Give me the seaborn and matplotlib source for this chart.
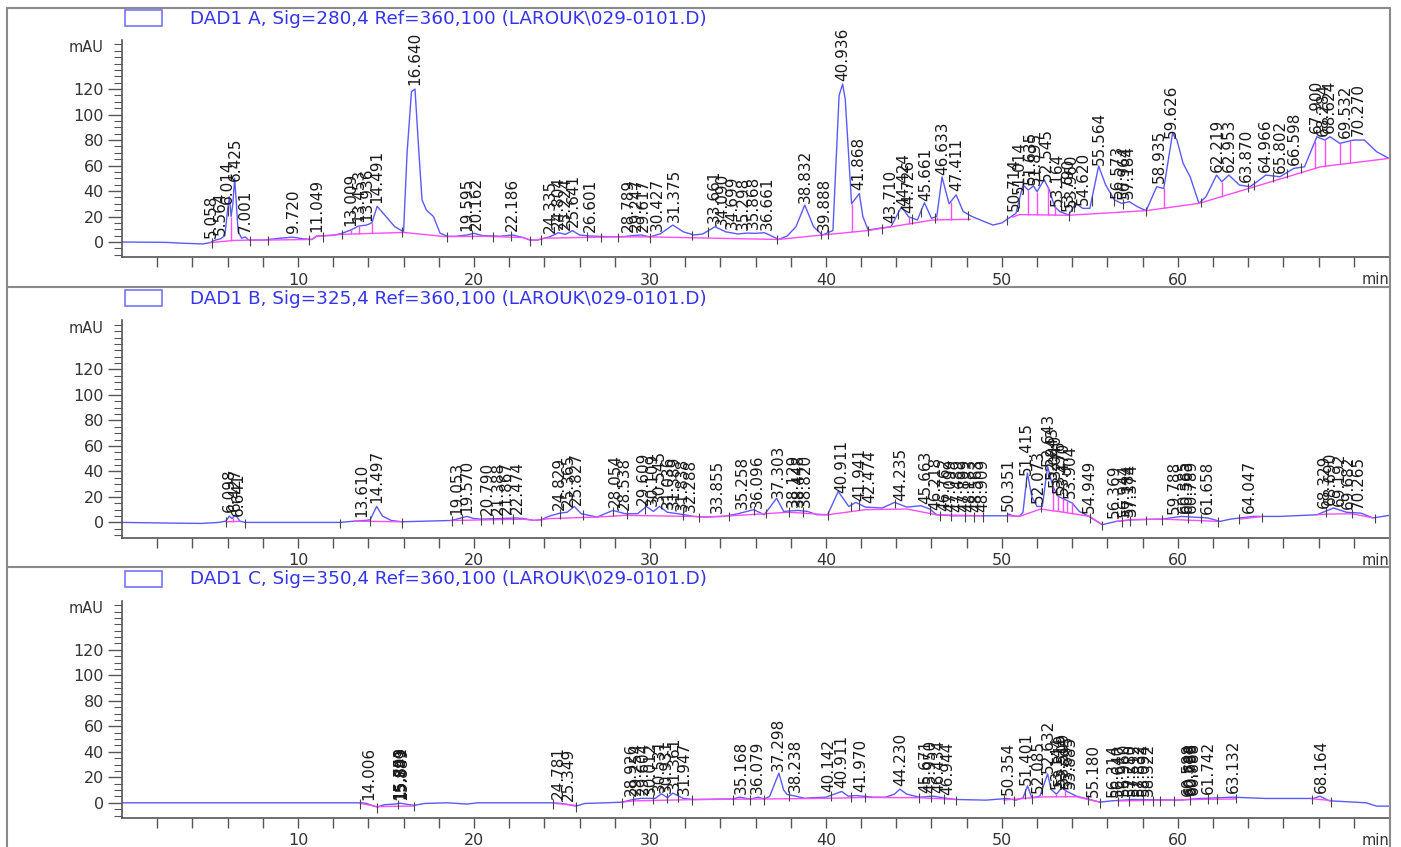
import numpy as np
import matplotlib
matplotlib.use('Agg')
import matplotlib.pyplot as plt
from matplotlib.lines import Line2D
from matplotlib.patches import Rectangle
import seaborn as sns

# ---------------- signal A : 280 nm ----------------
a_t = [0.0, 2.5, 3.5, 4.6, 5.0, 5.3, 5.6, 5.85, 6.0, 6.1, 6.2, 6.3, 6.4, 6.5, 6.6, 6.8, 7.0, 7.2, 8.0,
       9.0, 9.7, 10.3, 10.8, 11.05, 12.0, 12.5, 13.0, 13.45, 13.9, 14.2, 14.5, 15.0, 15.5, 16.0, 16.2,
       16.45, 16.65, 16.85, 17.05, 17.3, 17.7, 18.07, 18.5, 19.0, 19.6, 20.0, 20.5, 21.5, 22.2, 22.8,
       23.2, 23.6, 24.0, 24.3, 24.8, 25.2, 25.6, 26.0, 26.6, 27.5, 28.5, 29.0, 29.5, 30.0, 30.6, 31.3,
       31.9, 32.5, 33.0, 33.7, 34.3, 35.0, 35.5, 36.0, 36.5, 37.0, 37.3, 37.8, 38.3, 38.8, 39.3, 39.8,
       40.4, 40.75, 40.95, 41.1, 41.46, 41.9, 42.1, 42.4, 43.0, 43.7, 44.3, 44.7, 45.2, 45.6, 46.0,
       46.3, 46.6, 47.0, 47.4, 47.8, 48.3, 49.0, 49.5, 50.0, 50.8, 51.2, 51.5, 51.8, 52.0, 52.4, 52.7,
       53.0, 53.3, 53.8, 54.2, 54.6, 55.0, 55.5, 55.9, 56.4, 56.8, 57.25, 57.7, 58.2, 58.8, 59.2, 59.7,
       59.95, 60.3, 60.7, 61.2, 61.6, 62.2, 62.5, 62.9, 63.5, 64.1, 64.5, 65.0, 65.8, 66.6, 67.2, 67.9,
       68.35, 68.65, 69.2, 70.0, 70.6, 71.3, 72.0]
a_v = [0, -0.3, -1.0, -1.5, -0.5, 1.5, 2.5, 5, 25, 35.5, 20, 30, 50, 30, 8, 3, 4, 1.5, 1.5,
       3, 3.8, 2.5, 2, 4.7, 5.2, 6.8, 9.4, 12.5, 13.3, 15, 28, 20, 12, 8, 70,
       118, 120, 75, 33, 25, 20, 7, 4.5, 4.5, 5.5, 6.8, 5.0, 4.5, 5.5, 3.5,
       1.5, 1.5, 3, 4, 7.3, 6, 8.9, 5.5, 4.7, 4.2, 4.2, 5.0, 5.5, 4.0, 6.5, 13.3,
       8, 5.5, 6.3, 12, 8, 6.3, 7, 6.8, 7.3, 4.2, 2, 4.7, 12, 29, 12, 5.5,
       9, 115, 124, 112, 30, 38, 20, 9.4, 10.7, 12, 27.7, 19.8, 17.3, 30.8, 18.6,
       20, 51, 30, 37, 24, 20, 16, 13.3, 15, 22.5, 44.7, 40.8, 44, 39.5, 49, 40.8,
       27.7, 23.8, 21.2, 30.3, 26.4, 26.4, 59.6, 44.7, 33, 30.3, 31.6, 27.7, 24.6, 43.4, 42, 85.2,
       80, 61.7, 51.2, 30.3, 35.5, 52.5, 47.3, 52.5, 44.7, 43.4, 47.3, 52.5, 51.2, 57.8, 59, 82.6,
       80, 82.6, 77.4, 80, 80, 70.8, 65.6]
a_base_t = [5.0, 6.3, 7.2, 8.0, 10.8, 11.05, 12.5, 14.3, 16.0, 18.4, 20.5, 22.8, 23.2, 23.6, 24.0,
            27.9, 30.0, 37.3, 39.8, 42.4, 46.1, 48.2, np.nan, 50.6, 51.0, 53.8, 58.2, 61.2, 66.2,
            68.1, 72.0]
a_base_v = [-0.5, 1.2, 1.5, 1.5, 2.0, 4.5, 6.0, 6.8, 7.5, 4.2, 4.5, 3.5, 1.5, 1.5, 3.0,
            4.0, 4.0, 2.0, 5.5, 9.0, 17.3, 17.8, np.nan, 19.5, 21.5, 21.0, 24.6, 30.3, 51,
            59, 65.6]
a_peaks = ['5.058', '5.564', '6.014', '6.425', '7.001', '9.720', '11.049', '13.009', '13.453',
           '13.936', '14.491', '16.640', '19.595', '20.162', '22.186', '24.335', '24.804', '25.224',
           '25.641', '26.601', '28.789', '29.247', '29.617', '30.427', '31.375', '33.661', '34.090',
           '34.699', '35.298', '35.868', '36.661', '38.832', '39.888', '40.936', '41.868', '43.710',
           '44.424', '44.726', '45.661', '46.633', '47.411', '50.714', '51.014', '51.635', '51.895',
           '52.545', '53.164', '53.790', '53.960', '54.620', '55.564', '56.573', '56.964', '57.184',
           '58.935', '59.626', '62.219', '62.953', '63.870', '64.966', '65.802', '66.598', '67.900',
           '68.284', '68.624', '69.532', '70.270']
a_drops = [6.2, 13.0, 13.45, 14.2, 41.46, 44.7, 46.3, 47.1, 51.5, 52.0, 52.6, 53.0, 59.2, 62.5,
           67.8, 68.35, 69.2, 69.8]
a_events = [5.1, 6.0, 7.3, 8.3, 10.6, 11.4, 12.5, 15.9, 18.45, 19.9, 21.1, 22.1, 23.2, 23.8, 26.4,
            27.2, 28.2, 30.0, 32.4, 33.3, 37.2, 39.7, 40.1, 42.4, 43.2, 44.1, 44.9, 45.4, 46.2, 48.1,
            50.3, 50.95, 51.2, 53.8, 54.1, 55.1, 56.4, 56.9, 58.2, 61.3, 64.0, 64.3, 65.4, 66.2, 67.0]

# ---------------- signal B : 325 nm ----------------
b_t = [0, 2.5, 4.5, 5.5, 5.9, 6.1, 6.25, 6.45, 6.7, 7.0, 12.4, 13.2, 13.8, 14.1, 14.47, 14.8, 15.3,
       15.9, 18.7, 19.0, 19.6, 20.0, 20.4, 21.4, 22.4, 22.8, 23.4, 23.8, 24.3, 24.9, 25.3, 25.7, 26.1,
       27.0, 27.9, 28.6, 29.3, 29.8, 30.2, 30.55, 31.0, 31.6, 32.5, 33.1, 34.2, 35.0, 35.9, 36.5,
       37.2, 37.6, 38.4, 38.95, 39.5, 40.1, 40.7, 41.3, 41.7, 42.25, 43.2, 43.9, 44.6, 45.4, 45.9,
       46.3, 47.2, 48.8, 50.3, 50.4, 50.6, 51.0, 51.2, 51.45, 51.7, 52.0, 52.3, 52.6, 52.9, 53.2,
       53.6, 54.0, 54.4, 54.95, 55.7, 56.5, 57.4, 59.1, 60.2, 61.7, 62.4, 63.0, 64.3, 65.8, 67.9,
       68.85, 69.6, 70.4, 71.1, 72.0]
b_v = [0, -0.5, -0.8, 0, 1, 5, 3, 6, 1, 0, 0, 1, 1.5, 2, 12.5, 5, 1.5,
       0.5, 1.5, 2.5, 4.7, 3, 2.6, 3, 3.5, 3.0, 1.6, 2, 5, 7.3, 8, 12.5, 6.8,
       4.2, 9.4, 6.8, 6.8, 12.5, 8.6, 12.5, 7.9, 6.8, 4.7, 4.2, 4.7, 6.8, 10, 6,
       19, 8.6, 9.4, 8.6, 6, 6, 24.3, 12.5, 15.7, 12, 11.3, 15.7, 12, 13.1, 10.5,
       6, 5.2, 5.2, 5.2, 6.5, 5.2, 4.7, 8, 38.7, 20.4, 12.5, 12.5, 43.9, 28, 20.4,
       17.8, 15.2, 8.6, 4.7, -1.8, 0.8, 2.1, 2.6, 4.7, 3.5, 0.8, 2.6, 4.7, 4.7, 6,
       11.3, 7.9, 7.3, 3.5, 5.5]
b_base_t = [5.9, 6.7, np.nan, 13.2, 15.9, np.nan, 18.7, 22.8, 23.4, 23.8, 24.3, 27.0, 28.6, 32.5,
            33.1, 35.0, 37.9, 40.1, 42.25, 44.6, 46.3, 48.9, np.nan, 50.3, 51.0, 52.2, 53.5, 55.0,
            55.7, np.nan, 56.5, 57.4, 59.1, 62.3, np.nan, 63.5, 64.8, np.nan, 67.9, 68.4, 69.9, 71.1]
b_base_v = [0.5, 0.8, np.nan, 1.0, 0.5, np.nan, 1.5, 2.5, 1.6, 2.0, 3.0, 4.2, 5.5, 4.7,
            4.2, 5.5, 8.0, 6.0, 10.0, 10.5, 6.0, 5.2, np.nan, 5.2, 4.7, 10.5, 8.0, 4.7,
            -1.8, np.nan, 0.8, 2.1, 2.6, 0.8, np.nan, 2.6, 4.6, np.nan, 6.0, 6.5, 6.8, 3.5]
b_peaks = ['6.098', '6.427', '6.641', '13.610', '14.497', '19.053', '19.570', '20.790', '21.388',
           '21.867', '22.474', '24.829', '25.365', '25.827', '28.054', '28.538', '29.609', '30.109',
           '30.545', '31.036', '31.389', '31.838', '32.288', '33.855', '35.258', '36.096', '37.303',
           '38.129', '38.448', '38.820', '40.911', '41.941', '42.474', '44.235', '45.663', '46.218',
           '46.762', '47.099', '47.489', '47.899', '48.183', '48.563', '48.909', '50.351', '51.415',
           '52.073', '52.643', '52.843', '53.040', '53.276', '53.470', '53.904', '54.949', '56.369',
           '56.944', '57.184', '57.374', '59.788', '60.385', '60.563', '60.789', '61.658', '64.047',
           '68.329', '68.690', '69.192', '69.682', '70.265']
b_drops = [6.3, 52.9, 53.2, 53.45, 53.7, 54.0]
b_events = [5.9, 7.0, 12.4, 14.1, 15.9, 18.75, 19.3, 20.4, 21.1, 21.6, 22.2, 23.8, 24.9, 26.2, 27.9,
            28.7, 29.7, 31.9, 32.8, 34.5, 35.9, 36.6, 37.9, 38.7, 40.1, 41.4, 41.9, 43.9, 45.9, 46.5,
            47.1, 47.9, 48.4, 48.9, 50.3, 51.4, 52.2, 55.0, 55.7, 56.8, 57.3, 58.2, 59.1, 60.6, 61.3,
            62.3, 63.5, 64.8, 68.4, 69.9, 71.2]

# ---------------- signal C : 350 nm ----------------
c_t = [0, 13.6, 13.9, 14.2, 14.5, 14.9, 15.5, 15.8, 16.1, 16.6, 17.2, 18.5, 19.6, 20.2, 24.4, 25.0,
       25.8, 26.3, 27.5, 28.4, 29.05, 29.5, 30.0, 30.3, 30.66, 31.0, 31.3, 31.9, 32.5, 33.98, 34.7,
       35.1, 35.7, 36.15, 36.5, 36.8, 37.33, 37.6, 37.8, 38.2, 38.8, 39.1, 40.0, 40.9, 41.27, 41.7,
       42.7, 43.4, 43.9, 44.2, 44.6, 45.3, 46.1, 46.67, 47.4, 49.1, 50.3, 50.8, 51.2, 51.46, 51.7,
       52.16, 52.6, 52.8, 53.1, 53.4, 53.7, 54.24, 55.0, 55.57, 56.2, 57.46, 60.1, 61.25, 63.1, 65.0,
       67.7, 68.07, 68.6, 70.7, 71.3, 72.0]
c_v = [0, 0, -0.5, -2, -3.3, -1.5, -1, -0.3, -1, -2, -0.5, 0, -1, 0, 0, -0.5,
       -2.6, -0.5, 0, 0.5, 2.6, 3.5, 3.5, 3.5, 7, 4.0, 7.6, 3.4, 2.6, 2.9, 3.0,
       4.4, 2.9, 4.4, 3.0, 5, 23.3, 10, 6.5, 5.5, 3.5, 3.9, 4.4, 8.9, 5.2, 5.7,
       4.4, 4.4, 6.8, 10.7, 6.8, 4.4, 5.2, 3.9, 2.6, 2.1, 3.4, 2.1, 3.9, 13.3, 3.9,
       5.2, 22.7, 10.5, 6.8, 11.7, 8.9, 5.2, 2.6, 0.5, 1.5, 2.6, 2.1, 3.4, 4.4, 3.4,
       3.4, 5.2, 1.6, 0, -2.6, -2.6]
c_base_t = [13.5, 14.5, 16.6, np.nan, 24.5, 25.8, np.nan, 28.4, 29.05, 32.4, 34.7, 36.5, 38.8, 40.3,
            42.2, 45.3, 47.4, np.nan, 50.1, 51.3, 52.3, 54.2, 55.57, np.nan, 56.6, 59.0, 61.7, 63.3,
            np.nan, 67.6, 68.7]
c_base_v = [-0.3, -3.0, -2.5, np.nan, -0.3, -2.0, np.nan, 0.5, 1.5, 2.5, 2.8, 3.0, 3.3, 3.6,
            4.2, 4.0, 2.6, np.nan, 2.2, 3.5, 4.6, 4.8, 0.5, np.nan, 1.5, 2.0, 2.8, 3.0,
            np.nan, 3.2, 1.8]
c_peaks = ['14.006', '15.759', '15.803', '15.841', '15.889', '24.781', '25.349', '28.926', '29.254',
           '29.604', '30.012', '30.531', '30.931', '31.361', '31.947', '35.168', '36.079', '37.298',
           '38.238', '40.142', '40.911', '41.970', '44.230', '45.671', '45.950', '46.434', '46.944',
           '50.354', '51.401', '52.085', '52.632', '53.144', '53.319', '53.509', '53.695', '53.885',
           '55.180', '56.314', '56.640', '56.960', '57.280', '57.512', '57.832', '58.094', '58.322',
           '60.588', '60.688', '60.788', '60.888', '61.742', '63.132', '68.164']
c_drops = [53.1, 53.6]
c_events = [13.5, 14.5, 15.7, 16.6, 24.5, 25.8, 28.4, 29.05, 30.2, 30.95, 31.6, 32.4, 34.7, 35.7,
            36.5, 37.9, 40.3, 41.4, 42.2, 45.3, 46.0, 46.7, 47.4, 50.1, 50.7, 51.3, 51.7, 52.3, 54.9,
            55.6, 56.6, 57.2, 58.0, 58.6, 59.0, 59.8, 60.7, 61.7, 62.2, 63.3, 67.6, 68.7]

titles = ['DAD1 A, Sig=280,4 Ref=360,100 (LAROUK\\029-0101.D)',
          'DAD1 B, Sig=325,4 Ref=360,100 (LAROUK\\029-0101.D)',
          'DAD1 C, Sig=350,4 Ref=360,100 (LAROUK\\029-0101.D)']

sns.set_theme(style='white')
plt.rcParams['font.family'] = ['DejaVu Sans']

W, H = 1401, 847
TRACE = '#5a5aff'
BASE = '#ff4cff'
TITLE = '#3434f0'
AXC = '#555555'

fig = plt.figure(figsize=(W / 100, H / 100), dpi=100)


def px(x, y):
    return x / W, 1 - y / H


def draw_panel(k, t, v, base_t, base_v, peaks, drops, events, title):
    off = k * 280.4
    x0 = 122
    bottom = 257.3 + off
    ax = fig.add_axes([x0 / W, 1 - bottom / H, 1267 / W, 217.3 / H])
    t = np.asarray(t, float)
    v = np.asarray(v, float)

    sns.lineplot(x=t, y=v, ax=ax, color=TRACE, linewidth=1.0, sort=False,
                 estimator=None, legend=False)

    # baseline segments (separated by NaN)
    bt = np.asarray(base_t, float)
    bv = np.asarray(base_v, float)
    cuts = np.where(np.isnan(bt))[0]
    start = 0
    for c in list(cuts) + [len(bt)]:
        if c - start > 1:
            sns.lineplot(x=bt[start:c], y=bv[start:c], ax=ax, color=BASE,
                         linewidth=1.0, sort=False, estimator=None, legend=False)
        start = c + 1

    # drop lines
    ok = ~np.isnan(bt)
    for d in drops:
        ax.vlines(d, np.interp(d, bt[ok], bv[ok]), np.interp(d, t, v),
                  color=BASE, linewidth=1.0)

    # integration event marks
    for e in events:
        y = np.interp(e, t, v)
        ax.vlines(e, y - 4.5, y + 3.0, color='#444444', linewidth=0.8)

    # peak labels
    for p in peaks:
        rt = float(p)
        y = np.interp(rt, t, v)
        ax.text(rt, y + 3.0, p, rotation=90, ha='center', va='bottom',
                fontsize=11, color='#1a1a1a')

    ax.set_xlim(0, 72)
    ax.set_ylim(-12, 158.5)
    ax.set_xticks([10, 20, 30, 40, 50, 60])
    ax.set_xticks(np.arange(2, 72, 2), minor=True)
    ax.set_yticks([0, 20, 40, 60, 80, 100, 120])
    ax.set_yticks(np.arange(-10, 158, 5), minor=True)
    ax.grid(False)
    for s in ['top', 'right']:
        ax.spines[s].set_visible(False)
    for s in ['left', 'bottom']:
        ax.spines[s].set_color(AXC)
        ax.spines[s].set_linewidth(1.2)
    ax.tick_params(axis='y', which='major', length=10, width=1.0, color=AXC,
                   labelsize=11.5, labelcolor='#333333', pad=3, direction='out', left=True)
    ax.tick_params(axis='y', which='minor', length=6, width=0.8, color=AXC, left=True)
    ax.tick_params(axis='x', which='both', length=7, width=1.0, color=AXC,
                   labelsize=11.5, labelcolor='#333333', pad=4, direction='out', bottom=True)
    ax.set_xlabel('')
    ax.set_ylabel('')

    # legend box and title
    lx, ly = px(125, 10 + off)
    fig.patches.append(Rectangle((lx, ly - 16 / H), 37 / W, 16 / H, transform=fig.transFigure,
                                 facecolor='white', edgecolor='#7474ff', linewidth=1.2))
    tx, ty = px(190, 18.5 + off)
    fig.text(tx, ty, title, color=TITLE, fontsize=13.2, va='center', ha='left')
    mx, my = px(104, 48 + off)
    fig.text(mx, my, 'mAU', fontsize=10.5, color='#333333', ha='right', va='center')
    nx, ny = px(1362, 280 + off)
    fig.text(nx, ny, 'min', fontsize=10.5, color='#333333', ha='left', va='center')
    return ax


draw_panel(0, a_t, a_v, a_base_t, a_base_v, a_peaks, a_drops, a_events, titles[0])
draw_panel(1, b_t, b_v, b_base_t, b_base_v, b_peaks, b_drops, b_events, titles[1])
draw_panel(2, c_t, c_v, c_base_t, c_base_v, c_peaks, c_drops, c_events, titles[2])

# outer frame and panel separators
for (xa, ya, xb, yb) in [(6.5, 8, 1390, 8), (6.5, 8, 6.5, 847), (1390, 8, 1390, 847),
                         (6.5, 287, 1390, 287), (6.5, 567, 1390, 567)]:
    p0 = px(xa, ya)
    p1 = px(xb, yb)
    fig.lines.append(Line2D([p0[0], p1[0]], [p0[1], p1[1]], transform=fig.transFigure,
                            color='#8a8a8a', linewidth=1.5))

fig.savefig('out.png', dpi=100)
